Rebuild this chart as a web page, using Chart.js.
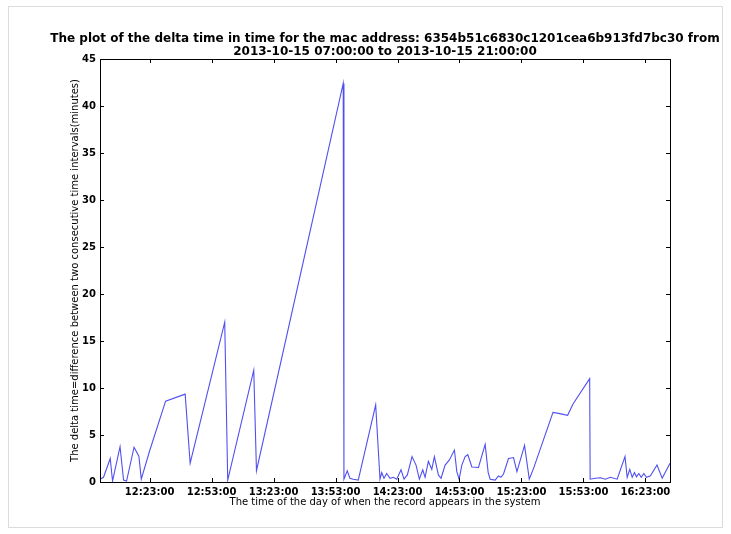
<!DOCTYPE html>
<html><head><meta charset="utf-8">
<script src="https://cdn.jsdelivr.net/npm/chart.js@4/dist/chart.umd.min.js"></script>
<style>html,body{margin:0;padding:0;background:#fff}</style>
</head><body>
<canvas id="c" width="731" height="534"></canvas>
<script>
const titleLines = [
  "The plot of the delta time in time for the mac address: 6354b51c6830c1201cea6b913fd7bc30 from",
  "2013-10-15 07:00:00 to 2013-10-15 21:00:00"
];
const xTitle = "The time of the day of when the record appears in the system";
const yTitle = "The delta time=difference between two consecutive time intervals(minutes)";
const tickLabels = ["12:23:00","12:53:00","13:23:00","13:53:00","14:23:00","14:53:00","15:23:00","15:53:00","16:23:00"];

const times = [
  "11:59:00","12:00:42","12:03:57","12:05:04","12:08:42","12:10:24","12:11:51","12:15:29","12:17:49","12:18:59",
  "12:23:00","12:30:45","12:40:13","12:42:38","12:59:22","13:00:49","13:13:25","13:14:44","13:56:43","13:57:04",
  "13:58:40","13:59:58","14:01:34","14:04:00","14:12:26","14:14:31","14:15:21","14:16:27","14:17:46","14:19:22",
  "14:20:58","14:22:37","14:24:42","14:26:09","14:27:45","14:30:02","14:31:58","14:33:34","14:35:13","14:36:20",
  "14:37:56","14:39:35","14:40:50","14:42:47","14:44:05","14:46:02","14:48:07","14:50:32","14:51:42","14:52:49",
  "14:54:08","14:55:44","14:57:02","14:58:59","15:02:11","15:05:25","15:06:53","15:07:51","15:10:16","15:11:52",
  "15:13:02","15:14:18","15:16:43","15:19:09","15:20:48","15:24:29","15:26:46","15:28:51","15:38:15","15:40:58",
  "15:45:20","15:47:57","15:56:00","15:56:14","15:58:46","16:01:11","16:03:36","16:06:02","16:09:19","16:13:06",
  "16:14:10","16:15:25","16:16:35","16:17:42","16:18:40","16:19:47","16:20:57","16:22:13","16:23:29","16:25:25",
  "16:28:35","16:31:06","16:34:53"
];
const deltaMinutes = [
  0.3,0.5,2.5,0.1,3.75,0.2,0.1,3.7,2.75,0.3,
  3.3,8.6,9.35,2.0,17.0,0.2,11.9,1.2,42.4,0.3,
  1.2,0.4,0.3,0.2,8.2,0.3,1.0,0.4,0.9,0.4,
  0.5,0.3,1.3,0.3,0.75,2.7,1.8,0.3,1.3,0.5,
  2.2,1.35,2.7,0.75,0.4,1.8,2.35,3.4,1.1,0.3,
  1.8,2.7,2.9,1.6,1.55,4.0,1.0,0.3,0.2,0.65,
  0.5,0.85,2.5,2.6,1.1,3.9,0.3,1.45,7.4,7.3,
  7.1,8.3,11.0,0.3,0.4,0.45,0.3,0.5,0.3,2.7,
  0.5,1.35,0.5,1.0,0.55,0.9,0.5,0.9,0.5,0.65,
  1.8,0.4,2.0
];

function toMin(s){ const p = s.split(':').map(Number); return p[0]*60 + p[1] + (p[2]||0)/60; }
const points = times.map((t,i)=>({x: toMin(t), y: deltaMinutes[i]}));

const FAM = '"DejaVu Sans", "Liberation Sans", sans-serif';

const decor = {
  id: 'decor',
  afterDraw(chart){
    const ctx = chart.ctx, ca = chart.chartArea;
    const xs = chart.scales.x, ys = chart.scales.y;
    ctx.save();
    ctx.strokeStyle = '#dcdcdc'; ctx.lineWidth = 1;
    ctx.strokeRect(8.5, 6.5, 714, 521);
    ctx.strokeStyle = '#000'; ctx.lineWidth = 1;
    ctx.strokeRect(Math.round(ca.left)+0.5, Math.round(ca.top)+0.5, Math.round(ca.right-ca.left), Math.round(ca.bottom-ca.top));
    ctx.beginPath();
    ys.ticks.forEach(t=>{
      const py = Math.round(ys.getPixelForValue(t.value))+0.5;
      ctx.moveTo(ca.left, py); ctx.lineTo(ca.left+4, py);
      ctx.moveTo(ca.right, py); ctx.lineTo(ca.right-4, py);
    });
    tickLabels.forEach(l=>{
      const px = Math.round(xs.getPixelForValue(toMin(l)))+0.5;
      ctx.moveTo(px, ca.bottom); ctx.lineTo(px, ca.bottom-4);
      ctx.moveTo(px, ca.top); ctx.lineTo(px, ca.top+4);
    });
    ctx.stroke();
    ctx.fillStyle = '#000';
    ctx.font = 'bold 12px ' + FAM;
    ctx.textAlign = 'center'; ctx.textBaseline = 'middle';
    const cx = (ca.left + ca.right)/2;
    ctx.fillText(titleLines[0], cx, 39);
    ctx.fillText(titleLines[1], cx, 52);
    ctx.restore();
  }
};

new Chart(document.getElementById('c'), {
  type: 'line',
  data: { datasets: [{
    data: points, borderColor: 'rgb(80,80,240)', borderWidth: 1.1,
    pointRadius: 0, tension: 0, fill: false
  }]},
  options: {
    responsive: false, animation: false,
    layout: { padding: { top: 59, right: 61, left: 0, bottom: 0 } },
    plugins: { legend: { display: false }, tooltip: { enabled: false }, title: { display: false } },
    scales: {
      x: {
        type: 'linear',
        min: toMin(times[0]), max: toMin(times[times.length-1]),
        afterBuildTicks: s => { s.ticks = tickLabels.map(l => ({ value: toMin(l) })); },
        afterFit: s => { s.height = 52; },
        grid: { display: false, drawTicks: false },
        border: { display: false },
        ticks: { autoSkip: false, maxRotation: 0, padding: 4, color: '#000',
                 font: { family: FAM, size: 10, weight: 'bold' },
                 callback: (v, i) => tickLabels[i] },
        title: { display: true, text: xTitle, color: '#000',
                 font: { family: FAM, size: 10 }, padding: { top: 0, bottom: 26 } }
      },
      y: {
        min: 0, max: 45,
        afterFit: s => { s.width = 100; },
        grid: { display: false, drawTicks: false },
        border: { display: false },
        ticks: { stepSize: 5, padding: 4, color: '#000',
                 font: { family: FAM, size: 10, weight: 'bold' } },
        title: { display: true, text: yTitle, color: '#000',
                 font: { family: FAM, size: 10 }, padding: { top: 69, bottom: 0 } }
      }
    }
  },
  plugins: [decor]
});
</script>
</body></html>
